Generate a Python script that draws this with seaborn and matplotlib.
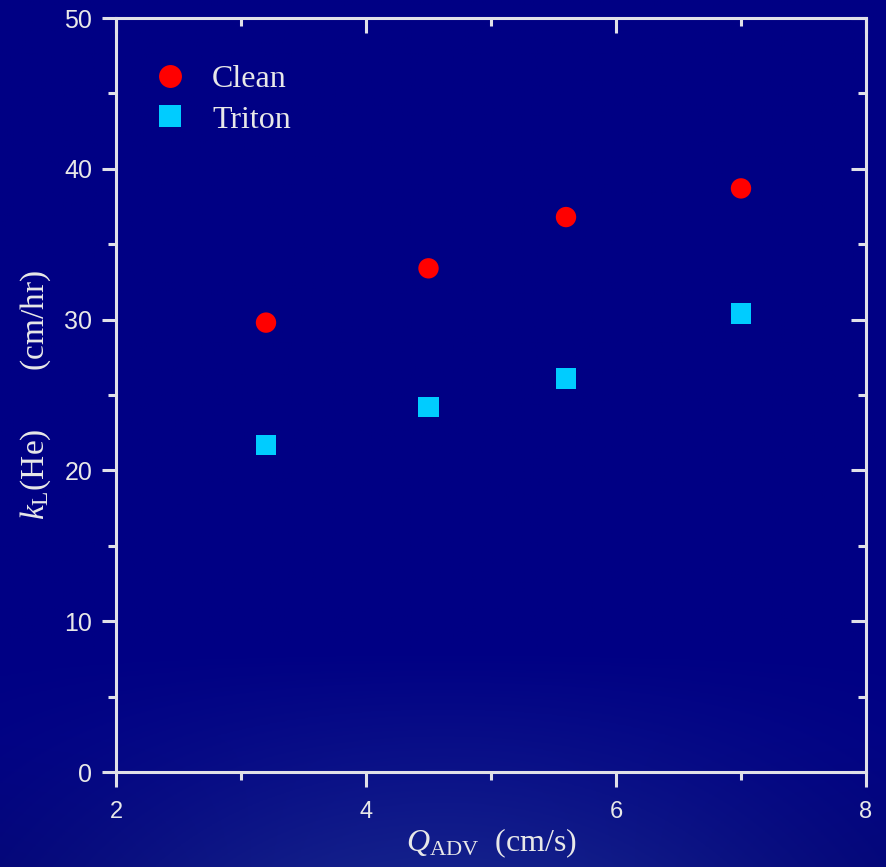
import numpy as np
import pandas as pd
import matplotlib
matplotlib.use("Agg")
import matplotlib.pyplot as plt
from matplotlib.ticker import MultipleLocator, NullFormatter
from matplotlib.lines import Line2D
import seaborn as sns

# Data
q_adv = [3.2, 4.5, 5.6, 7.0]
kl_clean = [29.8, 33.4, 36.8, 38.7]
kl_triton = [21.7, 24.2, 26.1, 30.4]
series = ["Clean", "Triton"]
x_ticks = [2, 4, 6, 8]
y_ticks = [0, 10, 20, 30, 40, 50]

df = pd.DataFrame({
    "Q": q_adv + q_adv,
    "kL": kl_clean + kl_triton,
    "series": [series[0]] * len(q_adv) + [series[1]] * len(q_adv),
})

sns.set_theme(style="white")
plt.rcParams["font.family"] = ["Liberation Serif", "DejaVu Serif"]
plt.rcParams["mathtext.fontset"] = "custom"
plt.rcParams["mathtext.rm"] = "Liberation Serif"
plt.rcParams["mathtext.it"] = "Liberation Serif:italic"

W, H = 886, 867
fig = plt.figure(figsize=(W / 100, H / 100), dpi=100)

# background gradient
bg = fig.add_axes([0, 0, 1, 1], zorder=-10)
yy, xx = np.mgrid[0:1:300j, 0:1:300j]
base = np.array([0, 0, 132]) / 255.0
light = np.array([22, 36, 140]) / 255.0
dark = np.array([0, 0, 110]) / 255.0
w_light = np.clip((yy - 0.75) / 0.25, 0, 1) * np.exp(-((xx - 0.5) ** 2) / 0.18) * 0.9
w_dark = np.clip((yy - 0.85) / 0.15, 0, 1) * (1 - np.exp(-((xx - 0.5) ** 2) / 0.18)) * 0.7
img = base[None, None, :] * (1 - w_light[..., None] - w_dark[..., None]) \
    + light[None, None, :] * w_light[..., None] + dark[None, None, :] * w_dark[..., None]
bg.imshow(np.clip(img, 0, 1), aspect="auto", extent=[0, 1, 0, 1], origin="upper")
bg.set_axis_off()

ax = fig.add_axes([116 / W, 1 - 772 / H, (866 - 116) / W, (772 - 18) / H])
ax.set_facecolor("none")

sns.scatterplot(data=df, x="Q", y="kL", hue="series", style="series",
                palette={"Clean": "#ff0000", "Triton": "#00ccff"},
                markers={"Clean": "o", "Triton": "s"},
                s=215, linewidth=0, ax=ax, legend=False, zorder=5)

ax.set_xlim(2, 8)
ax.set_ylim(0, 50)
ax.set_xticks(x_ticks)
ax.set_yticks(y_ticks)
ax.xaxis.set_minor_locator(MultipleLocator(1))
ax.yaxis.set_minor_locator(MultipleLocator(5))

spine_c = "#e0e0e8"
for sp in ax.spines.values():
    sp.set_visible(True)
    sp.set_color(spine_c)
    sp.set_linewidth(2.2)

ax.tick_params(which="both", bottom=True, left=True, top=False, right=False,
               color=spine_c, width=2.2, direction="out")
ax.tick_params(axis="x", which="major", length=11)
ax.tick_params(axis="x", which="minor", length=6)
ax.tick_params(axis="y", which="major", length=10)
ax.tick_params(axis="y", which="minor", length=6)

# top and right inward ticks
secx = ax.secondary_xaxis("top")
secx.set_xticks(x_ticks)
secx.xaxis.set_minor_locator(MultipleLocator(1))
secx.xaxis.set_major_formatter(NullFormatter())
secx.tick_params(which="both", direction="in", color=spine_c, width=2.2)
secx.tick_params(which="major", length=11)
secx.tick_params(which="minor", length=6)
secx.spines["top"].set_visible(False)

secy = ax.secondary_yaxis("right")
secy.set_yticks(y_ticks)
secy.yaxis.set_minor_locator(MultipleLocator(5))
secy.yaxis.set_major_formatter(NullFormatter())
secy.tick_params(which="both", direction="in", color=spine_c, width=2.2)
secy.tick_params(which="major", length=11)
secy.tick_params(which="minor", length=6)
secy.spines["right"].set_visible(False)

ax.tick_params(axis="x", which="major", labelsize=17, labelcolor="#e8e8e8", pad=10)
ax.tick_params(axis="y", which="major", labelsize=18, labelcolor="#e8e8e8", pad=7)
for lab in ax.get_xticklabels() + ax.get_yticklabels():
    lab.set_family(["Liberation Sans", "DejaVu Sans"])

ax.set_xlabel(r"$Q_{\rm ADV}$  (cm/s)", fontsize=23, color="#e8e8e8", labelpad=2)
ax.set_ylabel(r"$k_{\rm L}$(He)       (cm/hr)", fontsize=24, color="#e8e8e8", labelpad=8)

handles = [Line2D([], [], marker="o", linestyle="none", markersize=16.5,
                  markerfacecolor="#ff0000", markeredgewidth=0),
           Line2D([], [], marker="s", linestyle="none", markersize=16.5,
                  markerfacecolor="#00ccff", markeredgewidth=0)]
leg = ax.legend(handles, series, loc="upper left", bbox_to_anchor=(0.03, 0.955),
                frameon=False, fontsize=23, labelcolor="#e8e8e8",
                handlelength=1.2, handletextpad=0.7, labelspacing=0.35, borderaxespad=0)

fig.savefig("out.png", dpi=100)
